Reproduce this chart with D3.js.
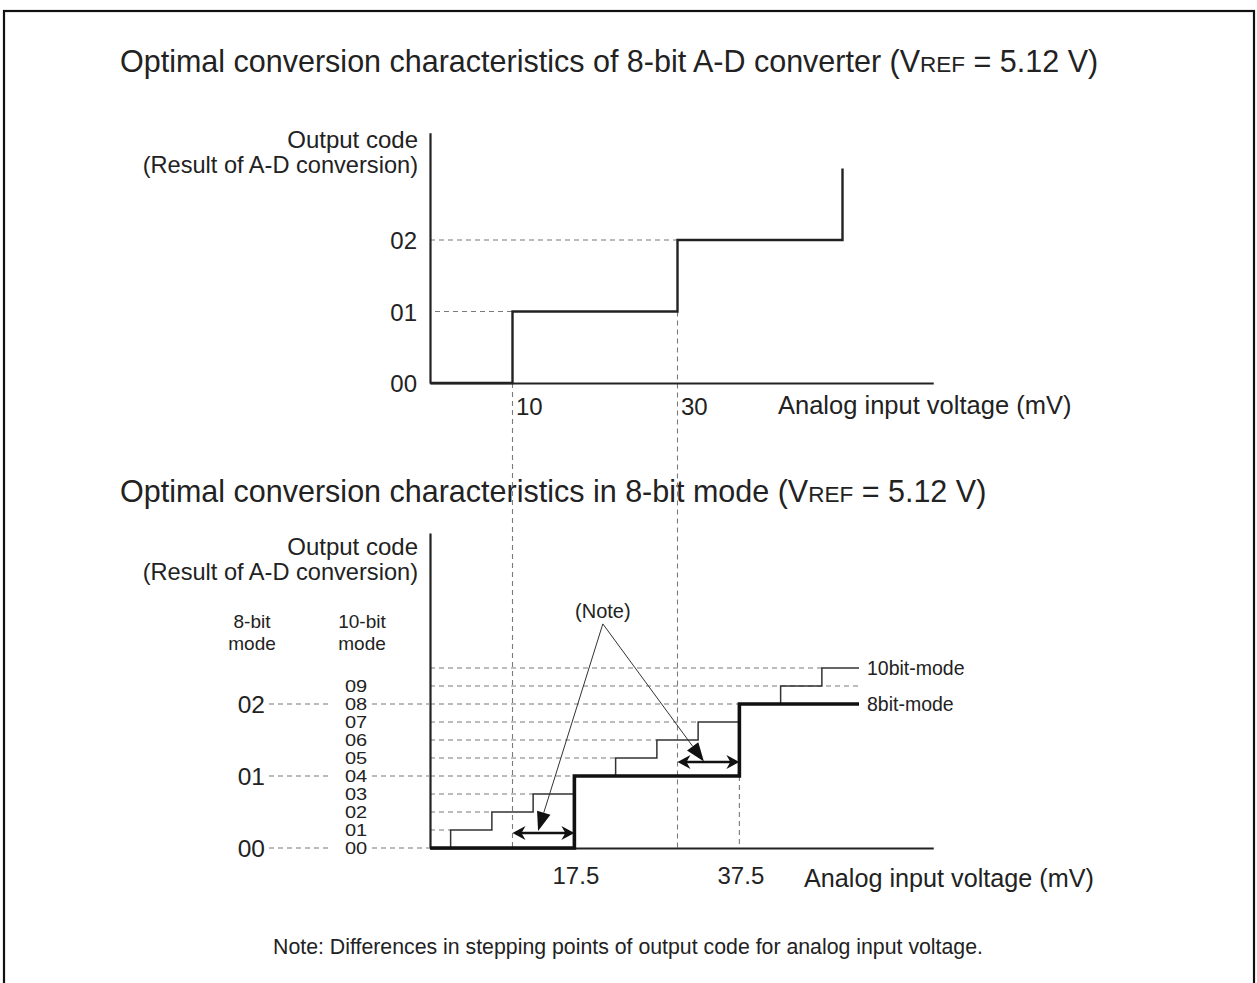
<!DOCTYPE html>
<html>
<head>
<meta charset="utf-8">
<script src="https://cdn.jsdelivr.net/npm/d3@7"></script>
<style>
  html, body { margin: 0; padding: 0; background: #fff; }
  svg { display: block; }
  text { font-family: "Liberation Sans", Arial, Helvetica, sans-serif; fill: #222; }
</style>
</head>
<body>
<svg id="chart" width="1257" height="983"></svg>
<script>
// ---- Upper chart: 8-bit A-D converter ----
const topCodes = [0, 1, 2];
const topCodeLabels = ["00", "01", "02"];
const topStepMv = [0, 10, 30, 50];          // input voltage where each code starts
const topStepCode = [0, 1, 2, 3];
const topTicks = [10, 30];

// ---- Lower chart: 8-bit mode vs 10-bit mode ----
const bottomTicks = [17.5, 37.5];
const mode8StepMv = [0, 17.5, 37.5, 52];
const mode8StepCode = [0, 1, 2, 2];         // 8-bit output codes
const mode10StepMv = [0, 2.5, 7.5, 12.5, 17.5, 22.5, 27.5, 32.5, 37.5, 42.5, 47.5, 52];
const mode10StepCode = [0, 1, 2, 3, 4, 5, 6, 7, 8, 9, 10, 10];
const mode10Labels = ["00", "01", "02", "03", "04", "05", "06", "07", "08", "09"];
const mode8Labels = ["00", "01", "02"];
const guideLevels = [1, 2, 3, 4, 5, 6, 7, 8, 9, 10];            // 10-bit code levels
const guideEndMv = [2.5, 7.5, 12.5, 17.5, 22.5, 27.5, 32.5, 37.5, 52, 47.5];
const gapFromMv = [10, 30];
const gapToMv = [17.5, 37.5];
const gapCode = [0.83, 4.78];
const noteTipMv = [13.1, 33.2];
const noteTipCode = [0.95, 4.8];
const noteOriginMv = 20.95, noteOriginCode = 12.45;

const svg = d3.select("#chart");
const INK = "#222";
const GUIDE = "#7a7a7a";
const FONT = "\"Liberation Sans\", Arial, Helvetica, sans-serif";

// outer frame
svg.append("rect").attr("x", 4).attr("y", 11).attr("width", 1250).attr("height", 1010)
  .attr("fill", "none").attr("stroke", "#111").attr("stroke-width", 2.2);

function label(x, y, str, size, anchor) {
  return svg.append("text").attr("x", x).attr("y", y)
    .attr("font-size", size).attr("text-anchor", anchor || "start").text(str);
}

// titles with small-caps REF subscript
function title(y, main) {
  const t = svg.append("text").attr("x", 120).attr("y", y).attr("font-size", 30.5);
  t.append("tspan").text(main + " (V");
  t.append("tspan").attr("font-size", 22.5).text("REF");
  t.append("tspan").text(" = 5.12 V)");
}
title(72, "Optimal conversion characteristics of 8-bit A-D converter");
title(502, "Optimal conversion characteristics in 8-bit mode");

// shared horizontal scale (mV)
const x = d3.scaleLinear().domain([0, 61]).range([430, 933.25]);

// ================= upper chart =================
const yTop = d3.scaleLinear().domain([0, 3.5]).range([383, 132.75]);

const dash = g => g.attr("fill", "none").attr("stroke", GUIDE).attr("stroke-width", 1.1)
  .attr("stroke-dasharray", "5,4");

// guide lines
svg.append("line").attr("x1", x(0) + 5).attr("x2", x(10)).attr("y1", yTop(1)).attr("y2", yTop(1)).call(dash);
svg.append("line").attr("x1", x(0)).attr("x2", x(30)).attr("y1", yTop(2)).attr("y2", yTop(2)).call(dash);

// ================= lower chart =================
const yBot = d3.scaleLinear().domain([0, 17.5]).range([848, 533]);

// vertical guides spanning both charts
svg.append("line").attr("x1", x(10)).attr("x2", x(10)).attr("y1", yTop(0)).attr("y2", yBot(0)).call(dash);
svg.append("line").attr("x1", x(30)).attr("x2", x(30)).attr("y1", yTop(1)).attr("y2", yBot(0)).call(dash);
svg.append("line").attr("x1", x(37.5)).attr("x2", x(37.5)).attr("y1", yBot(4)).attr("y2", yBot(0)).call(dash);

// 10-bit level guides
svg.selectAll("line.lvl").data(guideLevels).join("line").attr("class", "lvl")
  .attr("x1", x(0)).attr("x2", (d, i) => x(guideEndMv[i]))
  .attr("y1", d => yBot(d)).attr("y2", d => yBot(d)).call(dash);

// axes (domain lines + labels)
const axisTopY = svg.append("g").attr("transform", `translate(${x(0)},0)`)
  .call(d3.axisLeft(yTop).tickValues(topCodes).tickFormat((d, i) => topCodeLabels[i])
    .tickSize(0).tickPadding(13));
const axisTopX = svg.append("g").attr("transform", `translate(0,${yTop(0)})`)
  .call(d3.axisBottom(x).tickValues(topTicks).tickSize(0).tickPadding(14).tickFormat(d3.format("d")));
const axisBotY = svg.append("g").attr("transform", `translate(${x(0)},0)`)
  .call(d3.axisLeft(yBot).tickValues([]).tickSize(0));
const axisBotX = svg.append("g").attr("transform", `translate(0,${yBot(0)})`)
  .call(d3.axisBottom(x).tickValues(bottomTicks).tickSize(0).tickPadding(18).tickFormat(d3.format(".1f")));

[axisTopY, axisTopX, axisBotY, axisBotX].forEach(a => {
  a.attr("font-family", FONT).attr("font-size", 24);
  a.select(".domain").attr("stroke", INK).attr("stroke-width", 2.2);
  a.selectAll("text").attr("fill", INK);
});
axisTopY.selectAll("text").attr("dy", "0.36em");
axisTopX.selectAll("text").attr("text-anchor", "start").attr("dx", 3).attr("dy", "0.75em");
axisBotX.selectAll("text").attr("dy", "0.75em").attr("dx", 1);

// axis titles
label(418, 148, "Output code", 24, "end");
label(418, 173, "(Result of A-D conversion)", 23.6, "end");
label(778, 414, "Analog input voltage (mV)", 25.5);
label(804, 887, "Analog input voltage (mV)", 25.2);

label(418, 555, "Output code", 24, "end");
label(418, 580, "(Result of A-D conversion)", 23.6, "end");

// code column headers
label(252, 628, "8-bit", 19, "middle");
label(252, 650, "mode", 19, "middle");
label(362, 628, "10-bit", 19, "middle");
label(362, 650, "mode", 19, "middle");

// 10-bit code labels (compressed vertically to fit the 18px pitch)
svg.selectAll("text.c10").data(mode10Labels).join("text").attr("class", "c10")
  .attr("text-anchor", "middle").attr("font-size", 20)
  .attr("transform", (d, i) => `translate(356,${yBot(i) + 6}) scale(1,0.86)`)
  .text(d => d);

// 8-bit code labels and leader lines
svg.selectAll("text.c8").data(mode8Labels).join("text").attr("class", "c8")
  .attr("text-anchor", "end").attr("font-size", 24.5)
  .attr("x", 265).attr("y", (d, i) => yBot(i * 4) + 8.5).text(d => d);
mode8Labels.forEach((d, i) => {
  const yy = yBot(i * 4);
  svg.append("line").attr("x1", 269).attr("x2", 331).attr("y1", yy).attr("y2", yy).call(dash);
  svg.append("line").attr("x1", 372).attr("x2", x(0)).attr("y1", yy).attr("y2", yy).call(dash);
});

// ---- step curves ----
const stepTop = d3.line().curve(d3.curveStepAfter).x(d => x(d[0])).y(d => yTop(d[1]));
svg.append("path").datum(topStepMv.map((v, i) => [v, topStepCode[i]]))
  .attr("d", stepTop).attr("fill", "none").attr("stroke", INK).attr("stroke-width", 2.4);

const stepBot = d3.line().curve(d3.curveStepAfter).x(d => x(d[0])).y(d => yBot(d[1]));
svg.append("path").datum(mode10StepMv.map((v, i) => [v, mode10StepCode[i]]))
  .attr("d", stepBot).attr("fill", "none").attr("stroke", "#333").attr("stroke-width", 1.5);
svg.append("path").datum(mode8StepMv.map((v, i) => [v, mode8StepCode[i] * 4]))
  .attr("d", stepBot).attr("fill", "none").attr("stroke", "#111").attr("stroke-width", 3.6);

label(x(52) + 8, yBot(10) + 7, "10bit-mode", 19.5);
label(x(52) + 8, yBot(8) + 7, "8bit-mode", 19.5);

// ---- gap arrows (double headed) ----
function head(tx, ty, dir) {
  // dir: +1 points right, -1 points left
  const L = 13, W = 7, N = 9;
  return `M${tx},${ty} L${tx - dir * L},${ty - W} L${tx - dir * N},${ty} L${tx - dir * L},${ty + W} Z`;
}
gapFromMv.forEach((a, i) => {
  const x1 = x(a), x2 = x(gapToMv[i]), yy = yBot(gapCode[i]);
  svg.append("line").attr("x1", x1 + 6).attr("x2", x2 - 6).attr("y1", yy).attr("y2", yy)
    .attr("stroke", "#111").attr("stroke-width", 2.6);
  svg.append("path").attr("d", head(x1, yy, -1)).attr("fill", "#111");
  svg.append("path").attr("d", head(x2, yy, 1)).attr("fill", "#111");
});

// ---- note call-outs ----
const ox = x(noteOriginMv), oy = yBot(noteOriginCode);
label(ox, oy - 6, "(Note)", 20, "middle");
noteTipMv.forEach((m, i) => {
  const tx = x(m), ty = yBot(noteTipCode[i]);
  const dx = tx - ox, dy = ty - oy, len = Math.hypot(dx, dy);
  const ux = dx / len, uy = dy / len;
  const L = 19, W = 7;
  const bx = tx - ux * L, by = ty - uy * L;
  svg.append("line").attr("x1", ox).attr("y1", oy).attr("x2", bx).attr("y2", by)
    .attr("stroke", "#333").attr("stroke-width", 1);
  svg.append("path")
    .attr("d", `M${tx},${ty} L${bx - uy * W},${by + ux * W} L${bx + uy * W},${by - ux * W} Z`)
    .attr("fill", "#111");
});

// footnote
label(628, 954, "Note: Differences in stepping points of output code for analog input voltage.", 21.3, "middle");
</script>
</body>
</html>
